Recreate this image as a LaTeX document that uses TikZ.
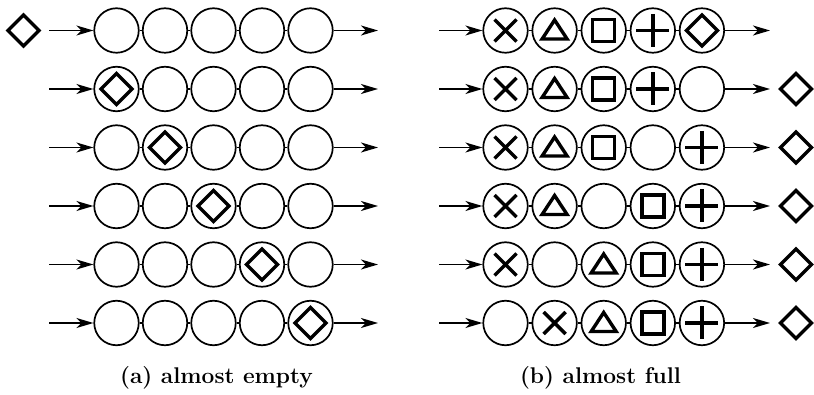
\documentclass[tikz,border=0pt]{standalone}
\usetikzlibrary{arrows.meta}
\begin{document}
\begin{tikzpicture}[x=1pt,y=-1pt,
  cell/.style={draw, circle, minimum size=44.5pt, inner sep=0pt, line width=1.7pt},
  sym/.style={line width=3.4pt},
  link/.style={line width=1.7pt},
  flow/.style={line width=1.7pt, -{Stealth[length=17pt,width=10pt,inset=5pt]}},
  captext/.style={font=\bfseries\fontsize{22.7}{27}\selectfont},
  pics/xmark/.style={code={\draw[sym] (-11,-11)--(11,11) (-11,11)--(11,-11);}},
  pics/tri/.style={code={\draw[sym] (0,-10.5)--(12.5,8.5)--(-12.5,8.5)--cycle;}},
  pics/sq/.style={code={\draw[sym] (-11,-11) rectangle (11,11);}},
  pics/plus/.style={code={\draw[sym] (-16.5,0)--(16.5,0) (0,-16.5)--(0,16.5);}},
  pics/dia/.style={code={\draw[sym] (0,-15.5)--(15.5,0)--(0,15.5)--(-15.5,0)--cycle;}},
  pics/blank/.style={code={}}
]
\useasboundingbox (0,0) rectangle (814,395);

% (a) almost empty
\foreach \r in {1,...,6} {
  \pgfmathsetmacro\yy{30.5+58.5*(\r-1)}
  \foreach \k in {1,...,5} {
    \node[cell] (L\r-\k) at ({116.5+48.5*(\k-1)},\yy) {};
  }
  \coordinate (Lin\r) at (49,\yy);
  \coordinate (Lout\r) at (378,\yy);
  \draw[flow] (Lin\r) -- (L\r-1);
  \foreach \k [count=\kk from 2] in {1,...,4} \draw[link] (L\r-\k) -- (L\r-\kk);
  \draw[flow] (L\r-5) -- (Lout\r);
}
\node[inner sep=0pt, minimum size=34pt] (Din) at (23.5,30.5) {};
\pic at (Din) {dia};
\foreach \r [evaluate=\r as \k using int(\r-1)] in {2,...,6} {
  \pic at (L\r-\k) {dia};
}

% (b) almost full
\foreach \r/\sa/\sb/\sc/\sd/\se in {
  1/xmark/tri/sq/plus/dia,
  2/xmark/tri/sq/plus/blank,
  3/xmark/tri/sq/blank/plus,
  4/xmark/tri/blank/sq/plus,
  5/xmark/blank/tri/sq/plus,
  6/blank/xmark/tri/sq/plus} {
  \pgfmathsetmacro\yy{30.5+58.5*(\r-1)}
  \foreach \k/\s in {1/\sa,2/\sb,3/\sc,4/\sd,5/\se} {
    \node[cell] (R\r-\k) at ({505.5+49.1*(\k-1)},\yy) {};
    \edef\tmp{\noexpand\pic at (R\r-\k) {\s};}\tmp
  }
  \coordinate (Rin\r) at (439,\yy);
  \coordinate (Rout\r) at (770,\yy);
  \draw[flow] (Rin\r) -- (R\r-1);
  \foreach \k [count=\kk from 2] in {1,...,4} \draw[link] (R\r-\k) -- (R\r-\kk);
  \draw[flow] (R\r-5) -- (Rout\r);
}
\foreach \r in {2,...,6} {
  \pgfmathsetmacro\yy{30.5+58.5*(\r-1)}
  \node[inner sep=0pt, minimum size=34pt] (Dout\r) at (796,\yy) {};
  \pic at (Dout\r) {dia};
}

\node[captext] (capa) at (216.5,378) {(a) almost empty};
\node[captext] (capb) at (600.5,378) {(b) almost full};
\end{tikzpicture}
\end{document}
